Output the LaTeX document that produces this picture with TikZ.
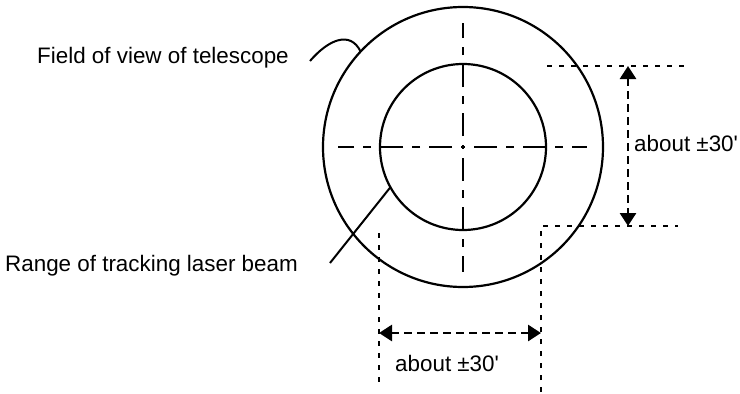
\documentclass[tikz,border=0pt]{standalone}
\usepackage{fontspec}
\setmainfont{Liberation Sans}
\usetikzlibrary{arrows.meta}

\begin{document}
\begin{tikzpicture}[x=1pt, y=-1pt,
  ring/.style={circle, draw, line width=2.2pt, inner sep=0pt, outer sep=0pt},
  axis/.style={line width=2.2pt, dash pattern=on 23pt off 9pt on 8pt off 9pt, dash phase=38pt},
  guide/.style={line width=2.2pt, dash pattern=on 5pt off 7pt},
  dim/.style={line width=2.8pt, dash pattern=on 8pt off 5pt,
    {Triangle[length=13pt,width=16pt]}-{Triangle[length=13pt,width=16pt]}},
  leader/.style={line width=2pt},
  txt/.style={font=\fontsize{22.4}{26}\selectfont, inner sep=0pt, anchor=base west}
]
\useasboundingbox (0,0) rectangle (740,394);

% the two circles
\coordinate (c) at (463,147);
\node[ring, minimum size=280pt] (fov) at (c) {};
\node[ring, minimum size=166pt] (range) at (c) {};

% centre lines
\draw[axis] (c) -- ++(0,-124);
\draw[axis] (c) -- ++(0,125);
\draw[axis] (c) -- ++(-125,0);
\draw[axis] (c) -- ++(124,0);

% labels with leaders
\node[txt] (fovtext) at (37,63) {Field of view of telescope};
\node[txt] (rangetext) at (5,271) {Range of tracking laser beam};
\coordinate (fovtip) at (310,61);
\coordinate (rangetip) at (330,263);
\draw[leader] (fovtip) .. controls (328,40) and (350,30) .. (fov.137);
\draw[leader] (rangetip) -- (range.209);

% vertical dimension
\coordinate (vtop) at (628,66);
\coordinate (vbot) at (628,226);
\draw[guide] (547,66) -- (687,66);
\draw[guide] (541,392) |- (678,226);
\draw[dim] (vtop) -- (vbot);
\node[txt] (vlabel) at (634,151) {about ±30\textquotesingle};

% horizontal dimension
\coordinate (hleft) at (379,333);
\coordinate (hright) at (541,333);
\draw[guide] (379,233) -- (379,388);
\draw[dim] (hleft) -- (hright);
\node[txt] (hlabel) at (395,371) {about ±30\textquotesingle};
\end{tikzpicture}
\end{document}
